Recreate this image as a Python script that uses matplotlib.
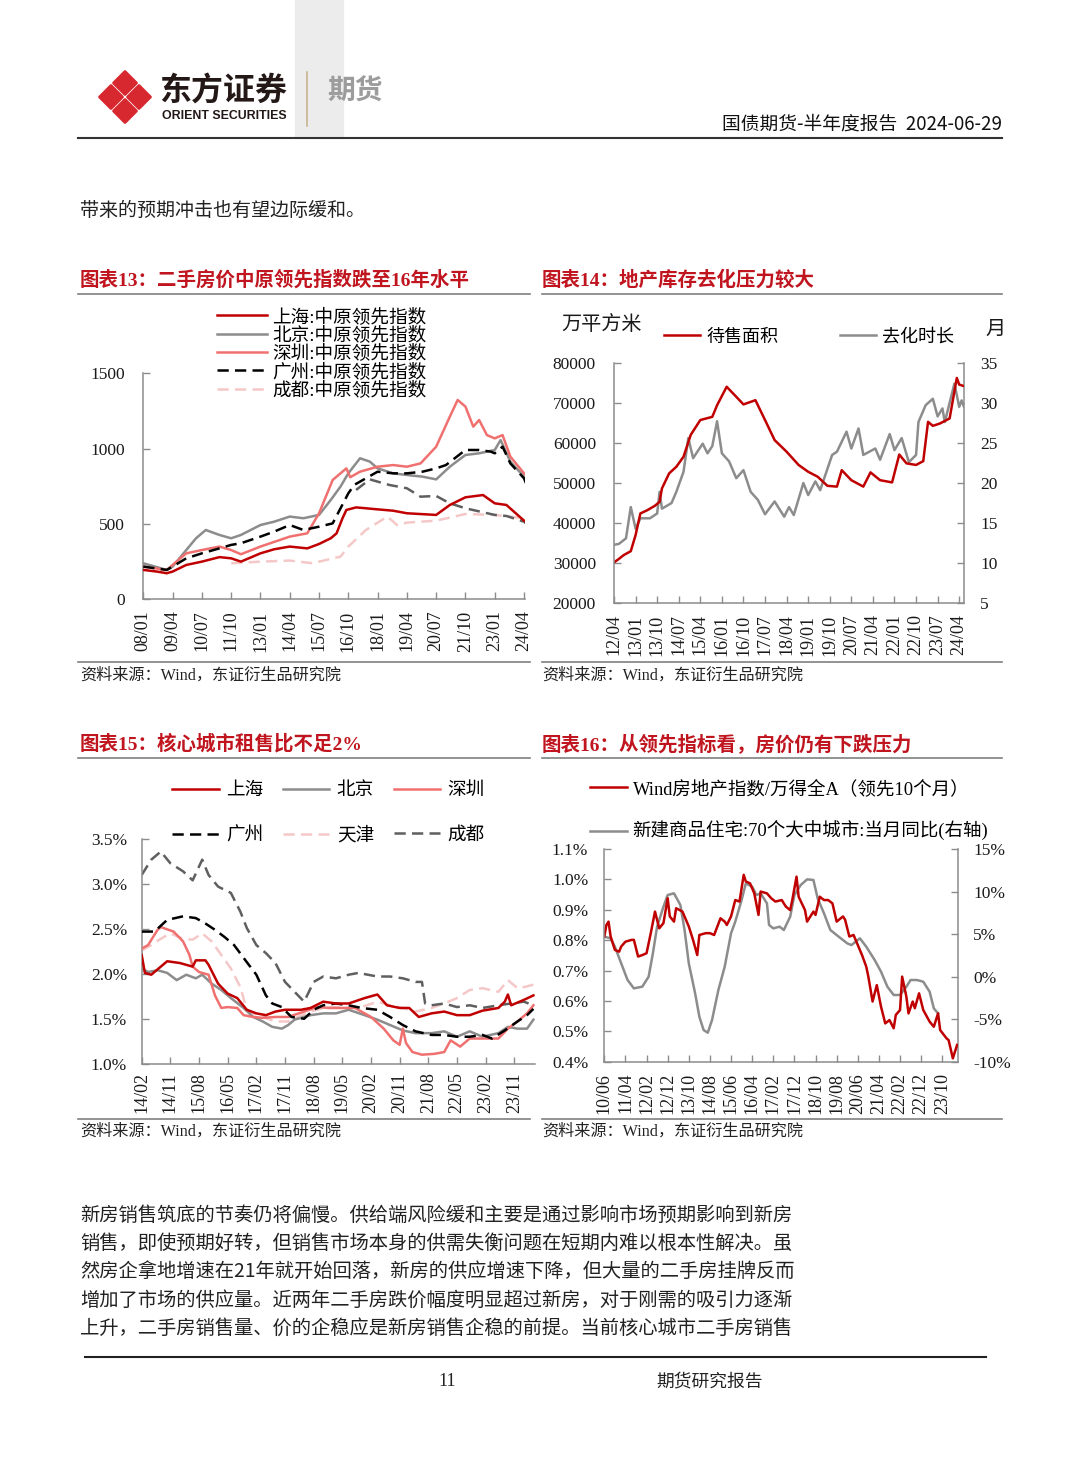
import matplotlib
matplotlib.use('Agg')
import matplotlib.pyplot as plt
from matplotlib.lines import Line2D
from matplotlib.patches import Polygon, Rectangle
from matplotlib.ticker import FuncFormatter

# ---------------- data (x = month index counted from each chart's first tick) ----------------
# chart 13: second-hand price leading index, months from 2008/01
ticks13 = ['08/01', '09/04', '10/07', '11/10', '13/01', '14/04', '15/07', '16/10',
           '18/01', '19/04', '20/07', '21/10', '23/01', '24/04']
sh13_m = [0, 7, 12, 15, 22, 30, 39, 45, 50, 60, 67, 75, 84, 90, 96, 99, 102, 104, 109, 120, 128, 135,
          150, 157, 165, 174, 180, 186, 195, 196]
sh13_v = [195, 184, 173, 184, 228, 250, 280, 272, 250, 305, 332, 350, 338, 367, 405, 438, 537, 593, 610,
          597, 588, 571, 560, 626, 677, 692, 637, 626, 522, 515]
bj13_m = [0, 12, 15, 22, 27, 32, 39, 45, 50, 60, 67, 75, 82, 90, 96, 101, 105, 111, 116, 120, 128, 135,
          143, 150, 157, 165, 172, 180, 183, 188, 195, 196]
bj13_v = [239, 195, 217, 327, 405, 460, 427, 405, 427, 493, 515, 549, 538, 560, 659, 748, 836, 936, 914,
          869, 836, 825, 814, 796, 880, 958, 969, 991, 1057, 914, 814, 803]
sz13_m = [0, 12, 15, 22, 30, 39, 45, 50, 60, 75, 84, 90, 97, 104, 106, 111, 120, 128, 135, 142, 150, 157,
          161, 165, 169, 172, 176, 180, 184, 188, 195, 196]
sz13_v = [217, 195, 228, 305, 327, 350, 327, 299, 350, 416, 438, 571, 792, 869, 810, 847, 880, 891, 880,
          902, 1013, 1212, 1323, 1279, 1146, 1190, 1090, 1068, 1090, 947, 836, 825]
gz13_m = [0, 12, 15, 22, 30, 39, 45, 50, 60, 67, 75, 82, 90, 97, 105, 108, 114, 120, 128, 135, 143, 150,
          155, 165, 172, 178, 180, 184, 188, 195, 196]
gz13_v = [217, 195, 217, 272, 305, 338, 361, 372, 416, 449, 493, 460, 482, 504, 703, 759, 803, 847, 836,
          836, 847, 869, 891, 991, 991, 980, 969, 1013, 902, 803, 770]
ot13_m = [109, 116, 120, 126, 135, 142, 150, 157, 165, 180, 186, 195, 196]
ot13_v = [726, 796, 781, 759, 737, 681, 686, 637, 604, 560, 553, 515, 504]
cd13_m = [45, 60, 75, 87, 90, 101, 105, 114, 125, 130, 135, 150, 165, 180, 195, 196]
cd13_v = [239, 250, 257, 239, 250, 283, 350, 460, 549, 493, 509, 522, 566, 560, 538, 527]

# chart 14: unsold area (10k m2, left) and months to clear (right), months from 2012/04
ticks14 = ['12/04', '13/01', '13/10', '14/07', '15/04', '16/01', '16/10', '17/07', '18/04', '19/01',
           '19/10', '20/07', '21/04', '22/01', '22/10', '23/07', '24/04']
area_m = [0, 2, 4, 7, 9, 11, 14, 17, 19, 20, 23, 26, 29, 32, 36, 41, 43, 47, 51, 54, 59, 63, 67, 72, 77,
          81, 85, 89, 93, 95, 99, 104, 107, 111, 116, 119, 122, 126, 129, 131, 133, 136, 140, 143, 144, 146]
area_v = [30200, 31050, 32000, 33000, 37000, 42400, 43250, 44300, 45300, 48650, 52400, 54050, 56550,
          62000, 65700, 66500, 69400, 74000, 71500, 69600, 70650, 65700, 60700, 57800, 54500, 52800,
          51550, 49300, 49100, 53200, 50700, 49100, 52650, 50700, 50150, 57100, 54900, 54500, 55450,
          65250, 64250, 64850, 66100, 76200, 74550, 74150]
clear_m = [0, 2, 5, 7, 9, 11, 15, 18, 19, 20, 24, 26, 29, 31, 33, 37, 39, 41, 43, 45, 48, 51, 54, 57, 60,
           63, 67, 71, 73, 75, 79, 81, 84, 86, 91, 93, 97, 99, 102, 104, 109, 111, 115, 117, 120, 123,
           126, 127, 130, 133, 135, 137, 138, 141, 142, 144, 145, 146]
clear_v = [12.3, 12.4, 13.1, 17.0, 14.3, 15.6, 15.6, 16.2, 18.9, 16.8, 17.5, 18.9, 21.4, 25.6, 23.1,
           24.9, 23.7, 24.6, 27.7, 23.7, 22.7, 20.6, 21.6, 18.9, 17.9, 16.1, 17.7, 15.8, 17.0, 16.0,
           20.0, 18.5, 20.2, 19.1, 23.5, 23.9, 26.4, 24.3, 26.8, 23.5, 24.3, 22.9, 26.1, 24.1, 25.6,
           22.6, 23.5, 27.6, 29.7, 30.5, 28.3, 29.3, 27.6, 31.2, 32.4, 29.5, 30.3, 29.5]

# chart 15: rent-to-price ratio (%), months from 2014/02
ticks15 = ['14/02', '14/11', '15/08', '16/05', '17/02', '17/11', '18/08', '19/05', '20/02', '20/11',
           '21/08', '22/05', '23/02', '23/11']
sh15_m = [0, 1, 3, 6, 8, 12, 16, 17, 20, 21, 24, 27, 30, 33, 36, 39, 42, 45, 50, 53, 57, 61, 65, 70, 74,
          77, 81, 84, 87, 91, 95, 99, 103, 107, 112, 114, 115, 116, 120, 123]
sh15_v = [2.21, 2.01, 1.99, 2.08, 2.14, 2.12, 2.08, 2.15, 2.15, 2.10, 1.89, 1.78, 1.73, 1.60, 1.56, 1.54,
          1.58, 1.60, 1.60, 1.62, 1.69, 1.67, 1.67, 1.73, 1.77, 1.65, 1.62, 1.62, 1.52, 1.56, 1.58, 1.54,
          1.54, 1.59, 1.62, 1.69, 1.77, 1.65, 1.71, 1.76]
bj15_m = [0, 2, 5, 8, 11, 14, 17, 19, 22, 25, 28, 32, 35, 38, 41, 44, 46, 48, 53, 57, 61, 65, 70, 74, 78,
          82, 86, 91, 95, 99, 103, 107, 112, 115, 118, 121, 123]
bj15_v = [2.06, 2.02, 2.04, 2.01, 1.93, 1.99, 1.95, 1.99, 1.89, 1.82, 1.73, 1.62, 1.52, 1.47, 1.41, 1.39,
          1.43, 1.49, 1.54, 1.56, 1.56, 1.60, 1.54, 1.49, 1.43, 1.37, 1.34, 1.34, 1.36, 1.30, 1.36, 1.30,
          1.34, 1.41, 1.39, 1.39, 1.49]
sz15_m = [0, 2, 5, 6, 10, 13, 15, 16, 18, 21, 23, 25, 27, 30, 32, 35, 38, 42, 46, 51, 55, 59, 63, 67, 72,
          76, 79, 81, 82, 83, 85, 88, 92, 95, 97, 100, 103, 107, 112, 115, 118, 121, 123]
sz15_v = [2.28, 2.32, 2.49, 2.52, 2.47, 2.36, 2.21, 2.08, 2.02, 1.99, 1.76, 1.62, 1.63, 1.62, 1.54, 1.52,
          1.51, 1.52, 1.52, 1.58, 1.63, 1.62, 1.62, 1.62, 1.52, 1.39, 1.26, 1.21, 1.39, 1.23, 1.13, 1.10,
          1.11, 1.13, 1.26, 1.19, 1.28, 1.28, 1.28, 1.39, 1.47, 1.56, 1.65]
gz15_m = [0, 4, 8, 13, 17, 20, 23, 26, 29, 33, 36, 39, 41, 44, 47, 51, 54, 57, 61, 65, 69, 74, 78, 82, 86,
          91, 95, 99, 103, 107, 110, 114, 118, 121, 123]
gz15_v = [2.47, 2.47, 2.60, 2.64, 2.62, 2.56, 2.49, 2.41, 2.32, 2.13, 1.99, 1.76, 1.67, 1.63, 1.52, 1.50,
          1.60, 1.65, 1.67, 1.65, 1.62, 1.60, 1.52, 1.43, 1.36, 1.32, 1.32, 1.30, 1.30, 1.32, 1.28, 1.37,
          1.47, 1.54, 1.61]
tj15_m = [0, 3, 6, 9, 13, 16, 19, 22, 25, 28, 31, 33, 35, 38, 42, 46, 49, 53, 57, 61, 65, 69, 74, 78, 82,
          86, 91, 95, 99, 103, 107, 112, 115, 118, 121, 123]
tj15_v = [2.26, 2.32, 2.39, 2.45, 2.39, 2.38, 2.45, 2.36, 2.21, 2.06, 1.85, 1.60, 1.56, 1.52, 1.47, 1.47,
          1.52, 1.58, 1.62, 1.63, 1.62, 1.63, 1.69, 1.65, 1.62, 1.58, 1.62, 1.67, 1.73, 1.82, 1.84, 1.80,
          1.93, 1.84, 1.86, 1.88]
cd15_m = [0, 3, 6, 9, 13, 16, 19, 21, 24, 28, 31, 33, 36, 39, 42, 45, 48, 51, 54, 57, 61, 65, 68, 74, 78,
          82, 86, 88, 89, 91, 95, 99, 103, 107, 112, 116, 120, 123]
cd15_v = [3.10, 3.27, 3.36, 3.23, 3.14, 3.04, 3.27, 3.10, 2.97, 2.90, 2.69, 2.51, 2.32, 2.23, 2.12, 1.91,
          1.80, 1.69, 1.91, 1.97, 1.95, 1.99, 2.01, 1.97, 1.97, 1.95, 1.91, 1.91, 1.67, 1.65, 1.67, 1.63,
          1.65, 1.62, 1.65, 1.67, 1.69, 1.65]

# chart 16: Wind real-estate / Wind All-A (left, %) and 70-city new home yoy (right, %), months from 2010/06
ticks16 = ['10/06', '11/04', '12/02', '12/12', '13/10', '14/08', '15/06', '16/04', '17/02', '17/12',
           '18/10', '19/08', '20/06', '21/04', '22/02', '22/12', '23/10']
rel_m = [0, 1, 2, 3, 5, 7, 8, 10, 13, 14, 16, 18, 20, 22, 24, 26, 28, 30, 31, 33, 34, 37, 40, 42, 44, 45,
         48, 50, 52, 55, 57, 58, 60, 62, 64, 66, 67, 69, 71, 73, 74, 77, 79, 81, 84, 86, 88, 89, 91, 92,
         95, 96, 99, 100, 102, 104, 106, 108, 110, 113, 114, 116, 118, 120, 122, 124, 125, 127, 129, 131,
         133, 135, 137, 138, 140, 141, 143, 144, 146, 147, 149, 151, 154, 156, 158, 159, 162, 163, 165, 167]
rel_v = [0.812, 0.850, 0.861, 0.812, 0.768, 0.762, 0.779, 0.795, 0.801, 0.801, 0.746, 0.751, 0.757,
         0.823, 0.894, 0.839, 0.856, 0.938, 0.878, 0.861, 0.905, 0.894, 0.845, 0.801, 0.751, 0.817,
         0.823, 0.823, 0.817, 0.872, 0.861, 0.850, 0.878, 0.932, 0.927, 1.015, 0.993, 0.987, 0.954,
         0.883, 0.960, 0.954, 0.938, 0.927, 0.932, 0.910, 0.899, 0.932, 1.009, 0.943, 0.899, 0.861,
         0.894, 0.883, 0.943, 0.932, 0.932, 0.921, 0.861, 0.878, 0.867, 0.812, 0.817, 0.784, 0.751,
         0.713, 0.680, 0.598, 0.652, 0.581, 0.526, 0.537, 0.510, 0.554, 0.570, 0.680, 0.614, 0.559,
         0.598, 0.576, 0.625, 0.570, 0.532, 0.515, 0.559, 0.504, 0.477, 0.471, 0.411, 0.455]
yoy_m = [0, 3, 5, 8, 11, 14, 18, 21, 23, 25, 28, 30, 33, 36, 38, 40, 43, 45, 47, 49, 51, 54, 57, 60, 62,
         65, 67, 70, 72, 74, 77, 78, 80, 83, 85, 88, 90, 93, 96, 99, 101, 104, 107, 111, 115, 117, 120,
         121, 124, 128, 131, 134, 137, 140, 143, 145, 148, 151, 154, 156, 158]
yoy_v = [4.69, 4.50, 3.52, 1.56, -0.39, -1.38, -1.18, 0.0, 2.74, 5.87, 8.22, 9.59, 9.79, 8.42, 5.48, 1.56,
         -1.97, -4.71, -6.28, -6.59, -5.10, -1.58, 1.17, 5.09, 6.46, 9.00, 10.96, 10.57, 9.59, 9.79, 8.61,
         6.07, 5.67, 5.87, 5.48, 7.05, 9.59, 10.77, 11.43, 11.36, 9.20, 7.44, 5.48, 4.69, 3.91, 3.71,
         4.30, 4.50, 3.52, 1.95, 0.58, -1.18, -2.16, -2.16, -1.18, -0.40, -0.40, -0.60, -1.77, -3.73,
         -4.32]

body_lines = [
    '新房销售筑底的节奏仍将偏慢。供给端风险缓和主要是通过影响市场预期影响到新房',
    '销售，即使预期好转，但销售市场本身的供需失衡问题在短期内难以根本性解决。虽',
    '然房企拿地增速在21年就开始回落，新房的供应增速下降，但大量的二手房挂牌反而',
    '增加了市场的供应量。近两年二手房跌价幅度明显超过新房，对于刚需的吸引力逐渐',
    '上升，二手房销售量、价的企稳应是新房销售企稳的前提。当前核心城市二手房销售',
]

# ---------------- styling ----------------
SERIF = ['Liberation Serif', 'Noto Sans CJK SC']
SANS = ['Noto Sans CJK SC', 'DejaVu Sans']
plt.rcParams['font.family'] = SERIF
plt.rcParams['axes.unicode_minus'] = False

DRED = '#C00000'
GREY = '#8C8C8C'
LRED = '#F07070'
PINK = '#F5C8C8'
DGREY = '#5F5F5F'
TITLE = '#C0141E'
SPINE = '#8C8C8C'

W, H = 1080, 1466
fig = plt.figure(figsize=(W / 100, H / 100), dpi=100)


def fx(x):
    return x / W


def fy(y):
    return 1 - y / H


def put(x, y, s, **kw):
    kw.setdefault('va', 'center')
    return fig.text(fx(x), fy(y), s, **kw)


def rule(x0, x1, y, color='#808080', lw=1.2):
    fig.add_artist(Line2D([fx(x0), fx(x1)], [fy(y), fy(y)], transform=fig.transFigure,
                          color=color, lw=lw))


def axes_px(l, t, r, b):
    return fig.add_axes([fx(l), fy(b), (r - l) / W, (b - t) / H])


def month_pos(lbl, start):
    yy, mm = lbl.split('/')
    return (2000 + int(yy) - start[0]) * 12 + int(mm) - start[1]


def style(ax, right_spine=False, ypad=13, xpad=8):
    ax.spines['top'].set_visible(False)
    ax.spines['right'].set_visible(right_spine)
    for s in ax.spines.values():
        s.set_color(SPINE)
        s.set_linewidth(1.1)
    ax.tick_params(direction='in', length=5, width=1, color=SPINE, labelcolor='#1a1a1a')
    ax.tick_params(axis='y', labelsize=12.5, pad=ypad)
    ax.tick_params(axis='x', labelsize=13, labelrotation=90, pad=xpad)
    ax.patch.set_visible(False)


def xticks(ax, labels, start):
    ax.set_xticks([month_pos(t, start) for t in labels])
    ax.set_xticklabels(labels)


# ---------------- page header ----------------
fig.add_artist(Rectangle((fx(295), fy(138)), 48 / W, 138 / H, transform=fig.transFigure,
                         color='#ececec', zorder=0))
cx, cy, d, r = 125, 97, 14, 11.5
for ox, oy in [(0, -d), (-d, 0), (d, 0), (0, d)]:
    pts = [(cx + ox, cy + oy - r), (cx + ox + r, cy + oy), (cx + ox, cy + oy + r), (cx + ox - r, cy + oy)]
    fig.add_artist(Polygon([(fx(a), fy(b)) for a, b in pts], closed=True, transform=fig.transFigure,
                           facecolor='#D7282F', edgecolor='#D7282F', lw=2, joinstyle='round'))
put(159, 92, '东方证券', family=SANS, fontsize=23, fontweight='bold', color='#231815')
put(162, 116, 'ORIENT SECURITIES', family=['Liberation Sans'], fontsize=8.9, fontweight='bold',
    color='#231815')
fig.add_artist(Line2D([fx(307), fx(307)], [fy(72), fy(126)], transform=fig.transFigure,
                      color='#C8B48C', lw=1.2))
put(327, 92, '期货', family=SANS, fontsize=20, fontweight='bold', color='#9C9C9C')
put(1002, 124, '国债期货-半年度报告  2024-06-29', family=SANS, fontsize=13.5, ha='right', color='#111')
rule(78, 1002, 138, color='#333333', lw=1.5)

put(80, 210, '带来的预期冲击也有望边际缓和。', family=SANS, fontsize=13.7, color='#222')

# ---------------- titles, rules, sources ----------------
put(80, 280, '图表13：二手房价中原领先指数跌至16年水平', fontsize=14, fontweight='bold', color=TITLE)
put(542, 280, '图表14：地产库存去化压力较大', fontsize=14, fontweight='bold', color=TITLE)
put(80, 744, '图表15：核心城市租售比不足2%', fontsize=14, fontweight='bold', color=TITLE)
put(542, 744, '图表16：从领先指标看，房价仍有下跌压力', fontsize=14, fontweight='bold', color=TITLE)
for y in (294, 758, 662, 1119):
    rule(78, 530, y)
    rule(542, 1002, y)
for x, y in [(80, 676), (542, 676), (80, 1132), (542, 1132)]:
    put(x, y, '资料来源：Wind，东证衍生品研究院', fontsize=11.6, color='#222')

# ---------------- chart 13 ----------------
ax = axes_px(143.3, 373.3, 525, 599.3)
ax.plot(sh13_m, sh13_v, color=DRED, lw=1.8, label='上海:中原领先指数', zorder=5)
ax.plot(bj13_m, bj13_v, color=GREY, lw=1.8, label='北京:中原领先指数', zorder=3)
ax.plot(sz13_m, sz13_v, color=LRED, lw=1.8, label='深圳:中原领先指数', zorder=4)
ax.plot(gz13_m, gz13_v, color='black', lw=1.8, ls=(0, (4.5, 2.5)), label='广州:中原领先指数', zorder=4)
ax.plot(cd13_m, cd13_v, color=PINK, lw=1.8, ls=(0, (4.5, 2.5)), label='成都:中原领先指数', zorder=2)
ax.plot(ot13_m, ot13_v, color=DGREY, lw=1.8, ls=(0, (4.5, 2.5)), label='_other', zorder=2)
ax.set_xlim(0, 195.5)
ax.set_ylim(0, 1500)
ax.set_yticks([0, 500, 1000, 1500])
xticks(ax, ticks13, (2008, 1))
style(ax, ypad=13, xpad=8)
ax.legend(loc='upper left', bbox_to_anchor=(fx(217), fy(308)), bbox_transform=fig.transFigure,
          frameon=False, fontsize=13.4, handlelength=2.7, handletextpad=0.25, labelspacing=0.02,
          borderpad=0, borderaxespad=0)

# ---------------- chart 14 ----------------
ax = axes_px(614, 362.7, 964, 603.3)
ax2 = ax.twinx()
la, = ax.plot(area_m, area_v, color=DRED, lw=1.8, label='待售面积')
lb, = ax2.plot(clear_m, clear_v, color=GREY, lw=1.8, label='去化时长')
ax.set_zorder(ax2.get_zorder() + 1)
ax.set_xlim(0, 146)
ax.set_ylim(20000, 80000)
ax.set_yticks(range(20000, 80001, 10000))
ax2.set_ylim(5, 35)
ax2.set_yticks(range(5, 36, 5))
xticks(ax, ticks14, (2012, 4))
style(ax, right_spine=False, ypad=13, xpad=8)
style(ax2, right_spine=True, ypad=11.5)
ax2.spines['left'].set_visible(False)
ax2.spines['bottom'].set_visible(False)
ax.legend([la, lb], ['待售面积', '去化时长'], loc='center left', bbox_to_anchor=(fx(664), fy(337)),
          bbox_transform=fig.transFigure, ncol=2, frameon=False, fontsize=13, handlelength=2.0,
          handletextpad=0.35, columnspacing=3.4, borderpad=0, borderaxespad=0)
put(602, 325, '万平方米', fontsize=14.5, ha='center', color='#1a1a1a')
put(996, 330, '月', fontsize=14.5, ha='center', color='#1a1a1a')

# ---------------- chart 15 ----------------
ax = axes_px(141.7, 839, 535, 1063.7)
h_sh, = ax.plot(sh15_m, sh15_v, color=DRED, lw=1.8, zorder=6)
h_bj, = ax.plot(bj15_m, bj15_v, color=GREY, lw=1.8, zorder=3)
h_sz, = ax.plot(sz15_m, sz15_v, color=LRED, lw=1.8, zorder=4)
h_gz, = ax.plot(gz15_m, gz15_v, color='black', lw=1.8, ls=(0, (4.5, 2.5)), zorder=5)
h_tj, = ax.plot(tj15_m, tj15_v, color=PINK, lw=1.8, ls=(0, (4.5, 2.5)), zorder=2)
h_cd, = ax.plot(cd15_m, cd15_v, color=DGREY, lw=1.8, ls=(0, (4.5, 2.5)), zorder=2)
ax.set_xlim(0, 123.5)
ax.set_ylim(1.0, 3.5)
ax.set_yticks([1.0, 1.5, 2.0, 2.5, 3.0, 3.5])
ax.yaxis.set_major_formatter(FuncFormatter(lambda v, p: f'{v:.1f}%'))
xticks(ax, ticks15, (2014, 2))
style(ax, ypad=10.5, xpad=6)
ax.legend([h_sh, h_gz, h_bj, h_tj, h_sz, h_cd], ['上海', '广州', '北京', '天津', '深圳', '成都'],
          loc='upper left', bbox_to_anchor=(fx(172), fy(782)), bbox_transform=fig.transFigure,
          ncol=3, frameon=False, fontsize=13.4, handlelength=2.5, handletextpad=0.4,
          columnspacing=1.05, labelspacing=1.5, borderpad=0, borderaxespad=0)

# ---------------- chart 16 ----------------
ax = axes_px(604.3, 849, 957.7, 1061.7)
ax2 = ax.twinx()
lr, = ax.plot(rel_m, rel_v, color=DRED, lw=1.8)
lg, = ax2.plot(yoy_m, yoy_v, color=GREY, lw=1.8)
ax.set_zorder(ax2.get_zorder() + 1)
ax.set_xlim(0, 167.3)
ax.set_ylim(0.4, 1.1)
ax.set_yticks([0.4, 0.5, 0.6, 0.7, 0.8, 0.9, 1.0, 1.1])
ax.yaxis.set_major_formatter(FuncFormatter(lambda v, p: f'{v:.1f}%'))
ax2.set_ylim(-10, 15)
ax2.set_yticks([-10, -5, 0, 5, 10, 15])
ax2.yaxis.set_major_formatter(FuncFormatter(lambda v, p: f'{v:.0f}%'))
xticks(ax, ticks16, (2010, 6))
style(ax, ypad=11.5, xpad=8)
style(ax2, right_spine=True, ypad=11)
ax2.spines['left'].set_visible(False)
ax2.spines['bottom'].set_visible(False)
ax.legend([lr, lg], ['Wind房地产指数/万得全A（领先10个月）', '新建商品住宅:70个大中城市:当月同比(右轴)'],
          loc='upper left', bbox_to_anchor=(fx(590), fy(780)), bbox_transform=fig.transFigure,
          frameon=False, fontsize=13.3, handlelength=2.0, handletextpad=0.3, labelspacing=1.27,
          borderpad=0, borderaxespad=0)

# ---------------- body text and footer ----------------
for i, line in enumerate(body_lines):
    put(80, 1215 + i * 28.3, line, family=SANS, fontsize=13.9, color='#222')
rule(85, 986, 1357, color='#222222', lw=1.5)
put(447, 1381, '11', fontsize=13, ha='center', color='#222')
put(710, 1381, '期货研究报告', family=SANS, fontsize=12.8, ha='center', color='#222')

fig.savefig('out.png', dpi=100)
